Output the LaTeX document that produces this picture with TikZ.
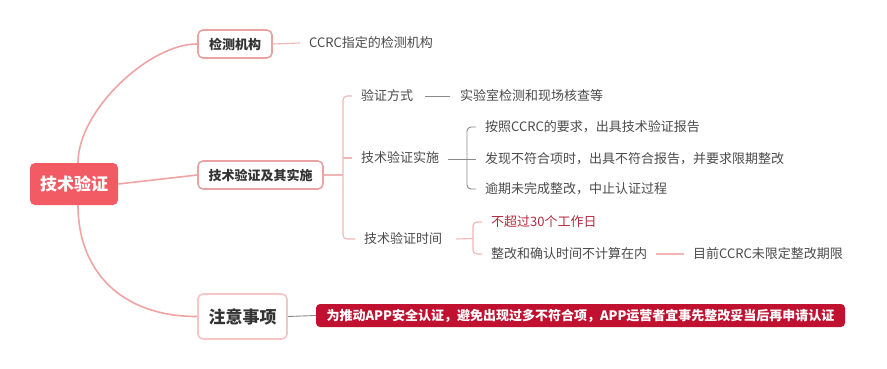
\documentclass[tikz,border=0pt]{standalone}
\usepackage{fontspec}
\setmainfont{Noto Sans CJK SC}
\begin{document}
\begin{tikzpicture}[x=1pt,y=-1pt,
  txt/.style={inner sep=0pt,anchor=west,font=\fontsize{13}{15}\selectfont,text=textgray},
  lvl1/.style={draw=boxpink,line width=1.6pt,fill=white,rounded corners=5pt,inner sep=0pt,font=\fontsize{13}{15}\selectfont\bfseries,text=darktext},
  curve/.style={draw=curvepink,line width=1.6pt},
  pinkl/.style={draw=lightpink,line width=1.1pt},
  grayl/.style={draw=linegray,line width=0.9pt},
]
\definecolor{textgray}{HTML}{4A4A4A}
\definecolor{darktext}{HTML}{333333}
\definecolor{boxpink}{HTML}{E9A3A3}
\definecolor{boxpinklight}{HTML}{F6C6C6}
\definecolor{curvepink}{HTML}{F0A3A3}
\definecolor{lightpink}{HTML}{F2B5B5}
\definecolor{linegray}{HTML}{8A8A8A}
\definecolor{rootred}{HTML}{F25A64}
\definecolor{notered}{HTML}{C01230}
\definecolor{darkred}{HTML}{B42A3C}
\useasboundingbox (0,0) rectangle (887,369);

% root
\node[fill=rootred,rounded corners=5pt,minimum width=88pt,minimum height=42pt,inner sep=0pt,
  text=white,font=\fontsize{17}{20}\selectfont\bfseries] (root) at (74,184) {技术验证};

% level 1
\node[lvl1,minimum width=74pt,minimum height=28pt] (jc) at (235,44) {检测机构};
\node[lvl1,minimum width=125pt,minimum height=28pt] (sub) at (260.5,175) {技术验证及其实施};
\node[lvl1,draw=boxpinklight,minimum width=89pt,minimum height=45pt,font=\fontsize{17}{20}\selectfont\bfseries] (note) at (242.5,316.5) {注意事项};

% main curves
\draw[curve] ([xshift=4pt]root.north) .. controls (78,110) and (150,43.5) .. (jc.west);
\draw[curve] (root.east) -- (sub.west);
\draw[curve] ([xshift=4pt]root.south) .. controls (78,270) and (120,316.5) .. (note.west);

% 检测机构 child
\node[txt] (jc1) at (309,43) {CCRC指定的检测机构};
\draw[pinkl] (jc.east) -- ([xshift=-9pt]jc1.west);

% 技术验证及其实施 children
\node[txt] (v1) at (361,96) {验证方式};
\node[txt] (v2) at (361,158) {技术验证实施};
\node[txt] (v3) at (364,239) {技术验证时间};
\draw[pinkl] (sub.east) -- (343,175) coordinate (vj);
\draw[pinkl,rounded corners=4pt] ([xshift=-9pt]v1.west) -- (vj |- v1.west) -- (vj |- v3.west) -- ([xshift=-9pt]v3.west);
\draw[pinkl] (vj |- v2.west) -- ([xshift=-9pt]v2.west);

% 验证方式 child
\node[txt] (v1a) at (460,96) {实验室检测和现场核查等};
\draw[grayl] ([xshift=12pt]v1.east) -- ([xshift=-10pt]v1a.west);

% 技术验证实施 children
\node[txt] (a1) at (485,127) {按照CCRC的要求，出具技术验证报告};
\node[txt] (a2) at (485,159) {发现不符合项时，出具不符合报告，并要求限期整改};
\node[txt] (a3) at (485,189) {逾期未完成整改，中止认证过程};
\draw[grayl] ([xshift=9pt]v2.east |- a2.west) -- ([xshift=-9pt]a2.west);
\draw[grayl,rounded corners=4pt] ([xshift=-9pt]a1.west) -- ([xshift=-18pt]a1.west) -- ([xshift=-18pt]a3.west) -- ([xshift=-9pt]a3.west);

% 技术验证时间 children
\node[txt,text=darkred] (b1) at (491,222) {不超过30个工作日};
\node[txt] (b2) at (491,254) {整改和确认时间不计算在内};
\node[txt] (b3) at (693,254) {目前CCRC未限定整改期限};
\draw[pinkl] ([xshift=14pt]v3.east) -- (473,238.5) coordinate (bj);
\draw[pinkl,rounded corners=4pt] ([xshift=-9pt]b1.west) -- (bj |- b1.west) -- (bj |- b2.west) -- ([xshift=-9pt]b2.west);
\draw[pinkl] ([xshift=9pt]b2.east) -- ([xshift=-9pt]b3.west);

% 注意事项 child
\node[fill=notered,rounded corners=4pt,minimum width=529pt,minimum height=23pt,inner sep=0pt,
  text=white,font=\fontsize{13}{15}\selectfont\bfseries] (n1) at (580.5,315.5) {为推动APP安全认证，避免出现过多不符合项，APP运营者宜事先整改妥当后再申请认证};
\draw[grayl] (note.east) -- (n1.west);
\end{tikzpicture}
\end{document}
